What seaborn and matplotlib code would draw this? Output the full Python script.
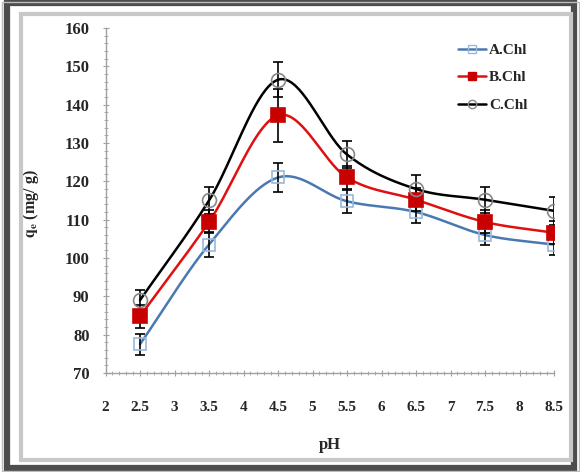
import numpy as np
import pandas as pd
import matplotlib
matplotlib.use("Agg")
import matplotlib.pyplot as plt
import seaborn as sns
from matplotlib.lines import Line2D
from matplotlib.patches import Rectangle
from matplotlib.ticker import MultipleLocator, FormatStrFormatter

# data
ph = [2.5, 3.5, 4.5, 5.5, 6.5, 7.5, 8.5]
a_chl = [77.5, 103.5, 121, 114.8, 112, 106, 103.5]
b_chl = [84.8, 109.4, 137.2, 121, 115.2, 109.4, 106.6]
c_chl = [89, 115, 146.5, 127, 118, 115.2, 112.3]
a_err = [2.8, 3.2, 3.8, 3.0, 3.0, 2.6, 2.8]
b_err = [3.0, 3.0, 7.0, 3.0, 3.0, 3.0, 3.0]
c_err = [2.6, 3.5, 4.5, 3.5, 3.6, 3.4, 3.6]
series_names = ["A.Chl", "B.Chl", "C.Chl"]


def smooth(x, y, n=40):
    # Excel-like smoothed line (Catmull-Rom Bezier), reflected end points
    x = np.asarray(x, float)
    y = np.asarray(y, float)
    px = np.concatenate([[2 * x[0] - x[1]], x, [2 * x[-1] - x[-2]]])
    py = np.concatenate([[2 * y[0] - y[1]], y, [2 * y[-1] - y[-2]]])
    xs, ys = [], []
    t = np.linspace(0, 1, n)
    for i in range(1, len(px) - 2):
        p0x, p1x, p2x, p3x = px[i - 1], px[i], px[i + 1], px[i + 2]
        p0y, p1y, p2y, p3y = py[i - 1], py[i], py[i + 1], py[i + 2]
        c1x = p1x + (p2x - p0x) / 6
        c1y = p1y + (p2y - p0y) / 6
        c2x = p2x - (p3x - p1x) / 6
        c2y = p2y - (p3y - p1y) / 6
        bx = (1 - t) ** 3 * p1x + 3 * (1 - t) ** 2 * t * c1x + 3 * (1 - t) * t ** 2 * c2x + t ** 3 * p2x
        by = (1 - t) ** 3 * p1y + 3 * (1 - t) ** 2 * t * c1y + 3 * (1 - t) * t ** 2 * c2y + t ** 3 * p2y
        xs.extend(bx)
        ys.extend(by)
    return np.array(xs), np.array(ys)


sns.set_style("white")
plt.rcParams["font.family"] = ["Liberation Serif", "DejaVu Serif"]
plt.rcParams["font.weight"] = "bold"
plt.rcParams["mathtext.fontset"] = "stix"

fig = plt.figure(figsize=(5.8, 4.72), dpi=100)
W, H = 580, 472

# frame around the picture
fig.patches.append(Rectangle((7 / W, 4 / H), 567 / W, 465 / H, transform=fig.transFigure,
                             fill=False, edgecolor="#4d4d4d", linewidth=4.5))
fig.patches.append(Rectangle((2 / W, 1 / H), 577 / W, 469 / H, transform=fig.transFigure,
                             fill=False, edgecolor="#bdbdbd", linewidth=1))
fig.patches.append(Rectangle((21 / W, 12 / H), 550 / W, 446 / H, transform=fig.transFigure,
                             fill=False, edgecolor="#c8c8c8", linewidth=3))

ax = fig.add_axes([105.5 / W, 1 - 373 / H, 448.5 / W, 345 / H])

styles = [
    dict(color="#4a78b0", marker="s", mfc="none", mec="#9ab8dc", ms=8.5),
    dict(color="#e01010", marker="s", mfc="#c80000", mec="#c80000", ms=10),
    dict(color="black", marker="o", mfc="none", mec="#888888", ms=10),
]
values = [a_chl, b_chl, c_chl]
errors = [a_err, b_err, c_err]

handles = []
for name, vals, err, st in zip(series_names, values, errors, styles):
    sx, sy = smooth(ph, vals)
    curve = pd.DataFrame({"pH": sx, "q": sy})
    sns.lineplot(data=curve, x="pH", y="q", ax=ax, sort=False, color=st["color"],
                 linewidth=1.8, zorder=2)
    ax.errorbar(ph, vals, yerr=err, fmt="none", ecolor="black", elinewidth=1.2,
                capsize=3.5, capthick=1.2, zorder=3)
    ax.plot(ph, vals, linestyle="none", marker=st["marker"], mfc=st["mfc"],
            mec=st["mec"], ms=st["ms"], mew=1.2, zorder=4)
    handles.append(Line2D([0], [0], color=st["color"], linewidth=1.8, marker=st["marker"],
                          mfc=st["mfc"], mec=st["mec"], ms=st["ms"] * 0.6, mew=1))

ax.set_xlim(2, 8.5)
ax.set_ylim(70, 160)
ax.xaxis.set_major_locator(MultipleLocator(0.5))
ax.xaxis.set_minor_locator(MultipleLocator(0.1))
ax.yaxis.set_major_locator(MultipleLocator(10))
ax.yaxis.set_minor_locator(MultipleLocator(2))
ax.xaxis.set_major_formatter(FormatStrFormatter("%g"))

for side in ["top", "right"]:
    ax.spines[side].set_visible(False)
for side in ["left", "bottom"]:
    ax.spines[side].set_color("#a0a0a0")
    ax.spines[side].set_linewidth(1)

ax.tick_params(axis="both", which="both", direction="inout", color="#a0a0a0",
               left=True, bottom=True)
ax.tick_params(axis="both", which="major", length=5, width=0.8)
ax.tick_params(axis="both", which="minor", length=3, width=0.6)
ax.tick_params(axis="x", which="major", labelsize=11, pad=18)
ax.tick_params(axis="y", which="major", labelsize=12, pad=9)
for lab in ax.get_xticklabels() + ax.get_yticklabels():
    lab.set_fontweight("bold")

ax.set_xlabel("pH", fontsize=12, fontweight="bold")
ax.set_ylabel(r"$\mathbf{q_e}$ (mg/ g)", fontsize=11.5, fontweight="bold")
ax.xaxis.set_label_coords(0.5, -0.185)
ax.yaxis.set_label_coords(-0.143, 0.49)

ax.legend(handles, series_names, loc="upper right", bbox_to_anchor=(0.975, 1.0),
          frameon=False, fontsize=11, handlelength=1.8, handletextpad=0.2,
          labelspacing=0.9, borderaxespad=0.6)

fig.savefig("out.png", dpi=100)
